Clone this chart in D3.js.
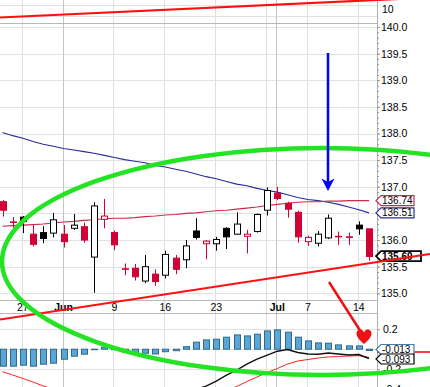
<!DOCTYPE html>
<html>
<head>
<meta charset="utf-8">
<script src="https://cdn.jsdelivr.net/npm/d3@7"></script>
<style>
  body { margin: 0; background: #fff; }
  svg { display: block; font-family: 'Liberation Sans', Arial, sans-serif; }
</style>
</head>
<body>
<div id="chart"></div>
<script>
// daily bars, May 22 - Jul 15
const dates = ['2014-05-22','2014-05-23','2014-05-27','2014-05-28','2014-05-29','2014-05-30',
  '2014-06-02','2014-06-03','2014-06-04','2014-06-05','2014-06-06','2014-06-09','2014-06-10',
  '2014-06-11','2014-06-12','2014-06-13','2014-06-16','2014-06-17','2014-06-18','2014-06-19',
  '2014-06-20','2014-06-23','2014-06-24','2014-06-25','2014-06-26','2014-06-27','2014-06-30',
  '2014-07-01','2014-07-02','2014-07-03','2014-07-07','2014-07-08','2014-07-09','2014-07-10',
  '2014-07-11','2014-07-14','2014-07-15'];
const openP  = [136.72,136.34,136.43,136.11,136.14,136.13,136.11,136.22,136.25,135.68,136.39,136.14,135.46,135.47,135.23,135.36,135.34,135.66,135.63,136.17,135.93,135.93,136.22,136.11,136.07,136.16,136.56,136.88,136.69,136.52,135.97,135.94,136.04,136.07,136.06,136.28,136.21];
const highP  = [136.75,136.43,136.45,136.28,136.26,136.51,136.28,136.49,136.33,136.71,136.77,136.18,135.56,135.55,135.72,135.45,135.80,135.72,136.00,136.41,136.00,136.06,136.24,136.52,136.19,136.50,136.99,137.00,136.72,136.55,136.08,136.17,136.48,136.16,136.14,136.35,136.21];
const lowP   = [136.44,136.23,136.13,135.88,135.94,136.05,135.86,136.19,135.95,135.01,136.22,135.81,135.34,135.24,135.19,135.14,135.28,135.36,135.47,136.01,135.64,135.80,135.83,136.10,135.75,136.14,136.46,136.75,136.42,135.95,135.89,135.88,136.02,135.91,135.91,136.10,135.61];
const closeP = [136.56,136.33,136.35,135.92,136.03,136.38,135.97,136.28,136.00,136.64,136.45,135.91,135.45,135.31,135.50,135.22,135.73,135.45,135.89,136.05,135.98,136.01,136.06,136.30,136.11,136.48,136.93,136.78,136.58,136.06,136.05,136.11,136.41,136.06,136.05,136.21,135.69];
const prevClose = 136.80;

// moving averages
const maLong  = [138.02,137.96,137.91,137.85,137.80,137.76,137.72,137.69,137.66,137.63,137.59,137.55,137.51,137.48,137.45,137.40,137.37,137.33,137.29,137.24,137.19,137.15,137.10,137.05,137.02,136.97,136.93,136.90,136.85,136.80,136.76,136.74,136.71,136.67,136.62,136.57,136.51];
const maShort = [136.26,136.27,136.28,136.29,136.30,136.32,136.34,136.35,136.37,136.38,136.40,136.41,136.41,136.42,136.44,136.45,136.47,136.48,136.50,136.51,136.53,136.55,136.56,136.58,136.60,136.62,136.65,136.67,136.69,136.71,136.72,136.72,136.73,136.73,136.74,136.74,136.74];

// MACD panel
const macdLine = [-0.40,-0.43,-0.45,-0.50,-0.52,-0.54,-0.53,-0.52,-0.52,-0.48,-0.45,-0.47,-0.50,-0.51,-0.51,-0.52,-0.49,-0.48,-0.44,-0.40,-0.37,-0.32,-0.26,-0.21,-0.15,-0.10,-0.06,-0.02,-0.003,-0.033,-0.048,-0.051,-0.038,-0.048,-0.058,-0.053,-0.093];
const signalLine = [-0.225,-0.258,-0.293,-0.328,-0.368,-0.40,-0.43,-0.45,-0.46,-0.47,-0.47,-0.47,-0.47,-0.47,-0.47,-0.47,-0.47,-0.46,-0.46,-0.45,-0.44,-0.43,-0.41,-0.373,-0.323,-0.278,-0.233,-0.193,-0.148,-0.118,-0.103,-0.088,-0.078,-0.073,-0.068,-0.065,-0.083];
const histo = [-0.17,-0.17,-0.16,-0.17,-0.15,-0.14,-0.10,-0.07,-0.05,-0.005,0.02,-0.005,-0.03,-0.04,-0.04,-0.048,-0.025,-0.015,0.025,0.07,0.093,0.10,0.12,0.143,0.133,0.15,0.183,0.193,0.17,0.12,0.083,0.063,0.06,0.043,0.033,0.033,-0.013];

// ticks
const gridDates = ['2014-05-27','2014-06-02','2014-06-09','2014-06-16','2014-06-23','2014-06-30','2014-07-01','2014-07-07','2014-07-14'];
const monthDates = ['2014-06-02','2014-07-01'];
const xTickDates = ['2014-05-27','2014-06-02','2014-06-09','2014-06-16','2014-06-23','2014-07-01','2014-07-07','2014-07-14'];
const xTickLabels = ['27','Jun','9','16','23','Jul','7','14'];
const priceTicks = [135.0,135.5,136.0,136.5,137.0,137.5,138.0,138.5,139.0,139.5,140.0];
const priceLabels = [135.0,135.5,136.0,137.0,137.5,138.0,138.5,139.0,139.5,140.0]; // 136.5 sits under the tags
const macdTicks = [-0.4,-0.2,0,0.2];
const macdLabels = [-0.4,-0.2,0.2];

const svgWidth = 430;
const svgHeight = 387;
const plotRight = 377;

const red = '#d10035';

const svg = d3.select('#chart')
  .append('svg')
  .attr('width', svgWidth)
  .attr('height', svgHeight);

svg.append('rect').attr('width', svgWidth).attr('height', svgHeight).attr('fill', '#fff');

const x = d3.scalePoint().domain(dates).range([2.5, 369]);
const yPrice = d3.scaleLinear().domain([135, 140]).range([293.3, 27]);
const yMacd = d3.scaleLinear().domain([-0.2, 0.2]).range([369.2, 329.2]);
const px = d => Math.round(x(d)) + 0.5;

// grid
const grid = svg.append('g');
grid.selectAll('.hp').data(priceTicks).enter().append('line')
  .attr('x1', 0).attr('x2', plotRight)
  .attr('y1', d => Math.round(yPrice(d)) + 0.5).attr('y2', d => Math.round(yPrice(d)) + 0.5)
  .attr('stroke', '#e2e2e2');
grid.selectAll('.hm').data(macdTicks).enter().append('line')
  .attr('x1', 0).attr('x2', plotRight)
  .attr('y1', d => Math.round(yMacd(d)) + 0.5).attr('y2', d => Math.round(yMacd(d)) + 0.5)
  .attr('stroke', '#e2e2e2');
// top panel grid
[5.5, 16.5].forEach(yy => grid.append('line').attr('x1', 0).attr('x2', plotRight)
  .attr('y1', yy).attr('y2', yy).attr('stroke', '#e2e2e2'));
grid.selectAll('.v').data(gridDates).enter().append('line')
  .attr('x1', d => px(d) - 1).attr('x2', d => px(d) - 1)
  .attr('y1', 0).attr('y2', svgHeight)
  .attr('stroke', d => monthDates.includes(d) ? '#c4c4c4' : '#e0e0e0');

// panel separators
[23.5, 300.5, 313.5].forEach(yy => svg.append('line')
  .attr('x1', 0).attr('x2', plotRight).attr('y1', yy).attr('y2', yy)
  .attr('stroke', '#b8b8b8'));
svg.append('line').attr('x1', plotRight + 0.5).attr('x2', plotRight + 0.5)
  .attr('y1', 0).attr('y2', svgHeight).attr('stroke', '#b0b0b0');

// moving averages
const line = (arr, sc) => d3.line().x((d, i) => x(dates[i])).y(d => sc(d))(arr);
svg.append('path').attr('d', line(maLong, yPrice)).attr('fill', 'none')
  .attr('stroke', '#2b2b9c').attr('stroke-width', 1.1);
svg.append('path').attr('d', line(maShort, yPrice)).attr('fill', 'none')
  .attr('stroke', '#cc2a4a').attr('stroke-width', 1.1);

// candles
const candles = dates.map((d, i) => ({
  date: d, o: openP[i], h: highP[i], l: lowP[i], c: closeP[i],
  pc: i === 0 ? prevClose : closeP[i - 1]
}));
const cg = svg.append('g').selectAll('g').data(candles).enter().append('g');
cg.append('line')
  .attr('x1', d => px(d.date)).attr('x2', d => px(d.date))
  .attr('y1', d => yPrice(d.h)).attr('y2', d => yPrice(d.l))
  .attr('stroke', d => d.c >= d.pc ? '#000' : red);
cg.append('rect')
  .attr('x', d => px(d.date) - 3).attr('width', 6)
  .attr('y', d => yPrice(Math.max(d.o, d.c)))
  .attr('height', d => Math.max(0.01, Math.abs(yPrice(d.o) - yPrice(d.c))))
  .attr('fill', d => d.c > d.o ? '#fff' : (d.c >= d.pc ? '#000' : red))
  .attr('stroke', d => d.c >= d.pc ? '#000' : red);

// MACD panel
const macdG = svg.append('g');
macdG.append('clipPath').attr('id', 'mclip').append('rect')
  .attr('x', 0).attr('y', 314).attr('width', plotRight).attr('height', 80);
const mg = macdG.append('g').attr('clip-path', 'url(#mclip)');
mg.selectAll('rect').data(histo).enter().append('rect')
  .attr('x', (d, i) => px(dates[i]) - 3).attr('width', 6)
  .attr('y', d => yMacd(Math.max(0, d)))
  .attr('height', d => Math.max(0.5, Math.abs(yMacd(d) - yMacd(0))))
  .attr('fill', '#5ba6d2').attr('stroke', '#2c6a93');
mg.append('path').attr('d', line(signalLine, yMacd)).attr('fill', 'none')
  .attr('stroke', '#ff2020').attr('stroke-width', 1);
mg.append('path').attr('d', line(macdLine, yMacd)).attr('fill', 'none')
  .attr('stroke', '#111').attr('stroke-width', 1.4);

// x labels
svg.append('g').selectAll('text').data(xTickDates).enter().append('text')
  .attr('x', d => x(d)).attr('y', 311)
  .attr('text-anchor', 'middle').attr('font-size', 10.5)
  .attr('font-weight', (d, i) => (xTickLabels[i] === 'Jun' || xTickLabels[i] === 'Jul') ? 'bold' : 'normal')
  .text((d, i) => xTickLabels[i]);

// right axes
const minorPrice = d3.axisRight(yPrice).tickValues(d3.range(135, 140.05, 0.1)).tickSize(2).tickFormat('');
svg.append('g').attr('transform', `translate(${plotRight},0)`).call(minorPrice)
  .call(g => g.select('.domain').remove())
  .selectAll('line').attr('stroke', '#999');
const priceAxis = d3.axisRight(yPrice).tickValues(priceLabels).tickSize(3).tickPadding(1)
  .tickFormat(d => d.toFixed(1));
svg.append('g').attr('transform', `translate(${plotRight},0)`).call(priceAxis)
  .call(g => g.select('.domain').remove())
  .call(g => g.selectAll('line').attr('stroke', '#999'))
  .call(g => g.selectAll('text').attr('font-size', 10.5).attr('fill', '#000')
    .attr('font-family', "'Liberation Sans', Arial, sans-serif"));
const macdAxis = d3.axisRight(yMacd).tickValues(macdLabels).tickSize(3).tickPadding(3)
  .tickFormat(d => d.toFixed(1));
svg.append('g').attr('transform', `translate(${plotRight},0)`).call(macdAxis)
  .call(g => g.select('.domain').remove())
  .call(g => g.selectAll('line').attr('stroke', '#999'))
  .call(g => g.selectAll('text').attr('font-size', 10.5).attr('fill', '#000')
    .attr('font-family', "'Liberation Sans', Arial, sans-serif"));
svg.append('text').attr('x', 382).attr('y', 12.5).attr('font-size', 10.5).text('10');

// value tags
function tag(yy, label, color, right, bold) {
  const g = svg.append('g');
  g.append('path')
    .attr('d', `M${plotRight - 1},${yy} L${plotRight + 4},${yy - 5} L${right},${yy - 5} L${right},${yy + 5} L${plotRight + 4},${yy + 5} Z`)
    .attr('fill', '#fff').attr('stroke', color).attr('stroke-width', bold ? 1.8 : 1.2);
  g.append('text').attr('x', plotRight + 5).attr('y', yy + 3.6)
    .attr('font-size', 10).attr('font-weight', bold ? 'bold' : 'normal').text(label);
}
tag(yPrice(maShort[maShort.length - 1]), maShort[maShort.length - 1].toFixed(2), '#cc2a4a', 414, false);
tag(yPrice(maLong[maLong.length - 1]), maLong[maLong.length - 1].toFixed(2), '#2b2b9c', 414, false);
tag(yPrice(closeP[closeP.length - 1]) - 0.5, closeP[closeP.length - 1].toFixed(2), '#000', 421, true);
svg.append('line').attr('x1', plotRight).attr('x2', svgWidth)
  .attr('y1', yMacd(signalLine[signalLine.length - 1]) - 5.5).attr('y2', yMacd(signalLine[signalLine.length - 1]) - 5.5)
  .attr('stroke', '#ff0000').attr('stroke-width', 1.5);
tag(yMacd(histo[histo.length - 1]) - 1, histo[histo.length - 1].toFixed(3), '#3f7fb0', 414, false);
tag(yMacd(macdLine[macdLine.length - 1]) + 0.5, macdLine[macdLine.length - 1].toFixed(3), '#000', 414, false);

// annotations
const ann = svg.append('g');
ann.append('line').attr('x1', 0).attr('y1', 17.5).attr('x2', 430).attr('y2', -2.5)
  .attr('stroke', '#ff1010').attr('stroke-width', 2.2);
ann.append('line').attr('x1', 0).attr('y1', 319.5).attr('x2', 430).attr('y2', 254)
  .attr('stroke', '#ff1010').attr('stroke-width', 2.2);
ann.append('ellipse').attr('cx', 322).attr('cy', 261.5).attr('rx', 320).attr('ry', 113.5)
  .attr('fill', 'none').attr('stroke', '#24e324').attr('stroke-width', 4.5);
// blue arrow
ann.append('line').attr('x1', 328).attr('y1', 53).attr('x2', 328).attr('y2', 183)
  .attr('stroke', '#0000ff').attr('stroke-width', 2.5);
ann.append('path').attr('d', 'M321.5,178.5 L328,182 L334.5,178.5 L328,191 Z').attr('fill', '#0000ff');
// red arrow with heart head
ann.append('line').attr('x1', 329).attr('y1', 282).attr('x2', 361).attr('y2', 332)
  .attr('stroke', '#ee1111').attr('stroke-width', 2.5);
ann.append('path')
  .attr('d', 'M364,344 C358,339 356.5,336 356.5,333.5 C356.5,330.5 359,329 361,329.5 C362.5,330 363.5,331 364,332.5 C364.5,331 365.5,330 367,329.5 C369,329 371.5,330.5 371.5,333.5 C371.5,336 370,339 364,344 Z')
  .attr('fill', '#ee1111');
</script>
</body>
</html>
